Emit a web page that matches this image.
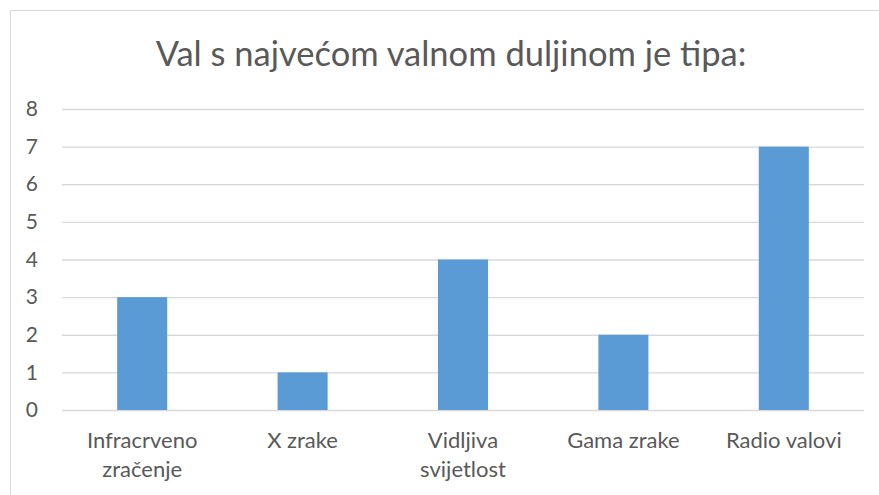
<!DOCTYPE html>
<html lang="hr">
  <head>
    <meta charset="UTF-8" />
    <title>Val s najvećom valnom duljinom</title>
    <script src="https://cdn.jsdelivr.net/npm/d3@7"></script>
    <style>
      body { margin: 0; background: #fff; }
      text { font-family: Lato, "Open Sans", sans-serif; fill: #595959; }
    </style>
  </head>
  <body>
    <div id="chart"></div>
    <script>
      // chart data
      const categories = [
        ["Infracrveno", "zračenje"],
        ["X zrake"],
        ["Vidljiva", "svijetlost"],
        ["Gama zrake"],
        ["Radio valovi"],
      ];
      const values = [3, 1, 4, 2, 7];
      const yTicks = [0, 1, 2, 3, 4, 5, 6, 7, 8];
      const title = "Val s najvećom valnom duljinom je tipa:";

      const W = 879, H = 495;
      const margin = { top: 109, right: 15, bottom: 85, left: 62 };

      const svg = d3
        .select("#chart")
        .append("svg")
        .attr("width", W)
        .attr("height", H);

      // chart frame (cropped on right and bottom)
      svg
        .append("path")
        .attr("d", `M10.5,${H} V10.5 H${W}`)
        .attr("fill", "none")
        .attr("stroke", "#d9d9d9")
        .attr("stroke-width", 1);

      svg
        .append("text")
        .attr("x", 451)
        .attr("y", 66)
        .attr("text-anchor", "middle")
        .style("font-size", "34.5px")
        .text(title);

      const keys = categories.map((c) => c.join(" "));

      const x = d3
        .scaleBand()
        .domain(keys)
        .range([margin.left, W - margin.right])
        .paddingInner(0.688)
        .paddingOuter(0.344);

      const y = d3
        .scaleLinear()
        .domain([0, 8])
        .range([H - margin.bottom, margin.top]);

      // gridlines + y labels
      const yAxis = d3
        .axisLeft(y)
        .tickValues(yTicks)
        .tickSize(-(W - margin.right - margin.left))
        .tickPadding(24);

      const gy = svg
        .append("g")
        .attr("transform", `translate(${margin.left},0)`)
        .call(yAxis);
      gy.select(".domain").remove();
      gy.selectAll(".tick line")
        .attr("stroke", "#d9d9d9")
        .attr("stroke-width", 1.3);
      gy.selectAll(".tick text")
        .attr("fill", "#595959")
        .style("font-size", "21px")
        .style("font-family", "Lato, sans-serif");

      // bars
      svg
        .selectAll(".bar")
        .data(values)
        .enter()
        .append("rect")
        .attr("class", "bar")
        .attr("x", (d, i) => x(keys[i]))
        .attr("y", (d) => y(d))
        .attr("width", x.bandwidth())
        .attr("height", (d) => y(0) - y(d))
        .attr("fill", "#5b9bd5");

      // category labels
      const labels = svg
        .selectAll(".cat")
        .data(categories)
        .enter()
        .append("text")
        .attr("class", "cat")
        .attr("text-anchor", "middle")
        .style("font-size", "22px")
        .attr("x", (d, i) => x(keys[i]) + x.bandwidth() / 2)
        .attr("y", 448);

      labels
        .selectAll("tspan")
        .data((d) => d)
        .enter()
        .append("tspan")
        .attr("x", function () {
          return this.parentNode.getAttribute("x");
        })
        .attr("dy", (d, i) => (i === 0 ? 0 : 29))
        .text((d) => d);
    </script>
  </body>
</html>
